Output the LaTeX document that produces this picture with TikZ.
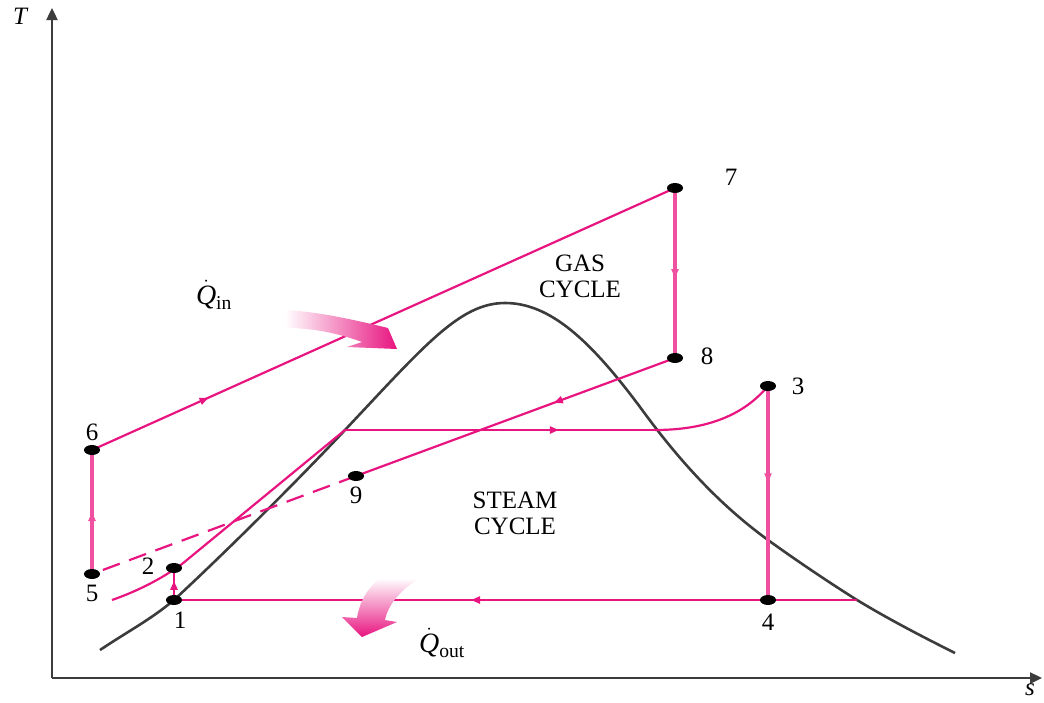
\documentclass[tikz,border=0pt]{standalone}
\usepackage{amsmath}
\usepackage{fontspec}
\setmainfont{Liberation Serif}
\usetikzlibrary{arrows.meta,decorations.markings}
\definecolor{pk}{RGB}{232,20,128}
\definecolor{pkl}{RGB}{240,80,160}
\definecolor{ax}{RGB}{60,60,60}
\tikzset{
  lbl/.style={font=\fontsize{25}{29}\selectfont, inner sep=0pt},
  qlbl/.style={font=\fontsize{28}{32}\selectfont, inner sep=0pt},
  thinpk/.style={draw=pk, line width=2.2pt},
  thickpk/.style={draw=pkl, line width=4pt},
  marrow/.style={postaction={decorate}, decoration={markings,
     mark=at position #1 with {\arrow{Triangle[length=9pt,width=7pt]}}}},
  dotm/.style={fill=black},
}
\begin{document}
\begin{tikzpicture}[x=1pt,y=-1pt]
\useasboundingbox (0,0) rectangle (1044,702);
% axes
\coordinate (o) at (52,678);
\coordinate (ty) at (52,8);
\coordinate (sx) at (1042,678);
\draw[ax, line width=2.4pt, -{Triangle[length=12pt,width=11pt]}] (o) -- (ty);
\draw[ax, line width=2.4pt, -{Triangle[length=12pt,width=11pt]}] (o) -- (sx);
\node[lbl, font=\fontsize{25}{29}\selectfont\itshape] (tl) at (20,16) {T};
\node[lbl, font=\fontsize{25}{29}\selectfont\itshape] (sl0) at (1030,690) {s};
% points
\coordinate (p1) at (174,600);
\coordinate (p2) at (174,568);
\coordinate (p3) at (768,386);
\coordinate (p4) at (768,600);
\coordinate (p5) at (92,574);
\coordinate (p6) at (92,450);
\coordinate (p7) at (675,188);
\coordinate (p8) at (675,358);
\coordinate (p9) at (356,476);
\coordinate (c0) at (112,600);
\coordinate (c2) at (182,564);
\coordinate (sl) at (345,430);
\coordinate (sv) at (655,430);
\coordinate (e4) at (857,600);
% dome
\draw[ax, line width=2.6pt] (100,650) .. controls (130,630) and (150,620) .. (p1)
  .. controls (230,548) and (300,478) .. (sl)
  .. controls (425,345) and (460,303) .. (505,303)
  .. controls (550,303) and (590,340) .. (640,407)
  .. controls (680,462) and (720,505) .. (768,540)
  .. controls (800,563) and (830,583) .. (e4)
  .. controls (890,620) and (925,638) .. (955,653);
% steam cycle
\draw[thinpk, marrow=0.6] (p1) -- (p2);
\draw[thinpk] (c0) .. controls (135,592) and (160,580) .. (c2) -- (sl);
\draw[thinpk, marrow=0.69] (sl) -- (sv);
\draw[thinpk] (sv) .. controls (715,430) and (748,410) .. (p3);
\draw[thickpk, marrow=0.45] (p3) -- (p4);
\draw[thinpk] (e4) -- (p4);
\draw[thinpk, marrow=0.5] (p4) -- (p1);
% gas cycle
\draw[thickpk, marrow=0.5] (p5) -- (p6);
\draw[thinpk, marrow=0.2] (p6) -- (p7);
\draw[thickpk, marrow=0.53] (p7) -- (p8);
\draw[thinpk, marrow=0.38] (p8) -- (p9);
\draw[thinpk, dash pattern=on 18pt off 10pt] (p9) -- (p5);
% heat arrows
\shade[left color=white, right color=pk, draw=none]
  (286,310) .. controls (320,312) and (355,320) .. (388,328)
  -- (397,349) -- (347,347) -- (362,342)
  .. controls (340,334) and (315,328) .. (285,328) -- cycle;
\shade[top color=white, bottom color=pk, draw=none]
  (380,578) -- (420,578) .. controls (400,590) and (388,605) .. (385,620)
  -- (397,622) -- (362,637) -- (342,617) -- (357,618)
  .. controls (360,600) and (368,588) .. (380,578) -- cycle;
% dots
\foreach \p in {p1,p2,p3,p4,p5,p6,p7,p8,p9}
  \fill[dotm] (\p) ellipse (8 and 5);
% labels
\node[lbl] (l1) at (180,620) {1};
\node[lbl] (l2) at (148,566) {2};
\node[lbl] (l3) at (798,386) {3};
\node[lbl] (l4) at (768,622) {4};
\node[lbl] (l5) at (92,593) {5};
\node[lbl] (l6) at (92,432) {6};
\node[lbl] (l7) at (731,177) {7};
\node[lbl] (l8) at (707,356) {8};
\node[lbl] (l9) at (356,495) {9};
\node[lbl, align=center] (gas) at (580,276) {GAS\\[-3pt]CYCLE};
\node[lbl, align=center] (steam) at (515,513) {STEAM\\[-3pt]CYCLE};
\node[qlbl] (qin) at (214,295) {$\dot{\text{\itshape Q}}_{\text{in}}$};
\node[qlbl] (qout) at (442,643) {$\dot{\text{\itshape Q}}_{\text{out}}$};
\end{tikzpicture}
\end{document}
